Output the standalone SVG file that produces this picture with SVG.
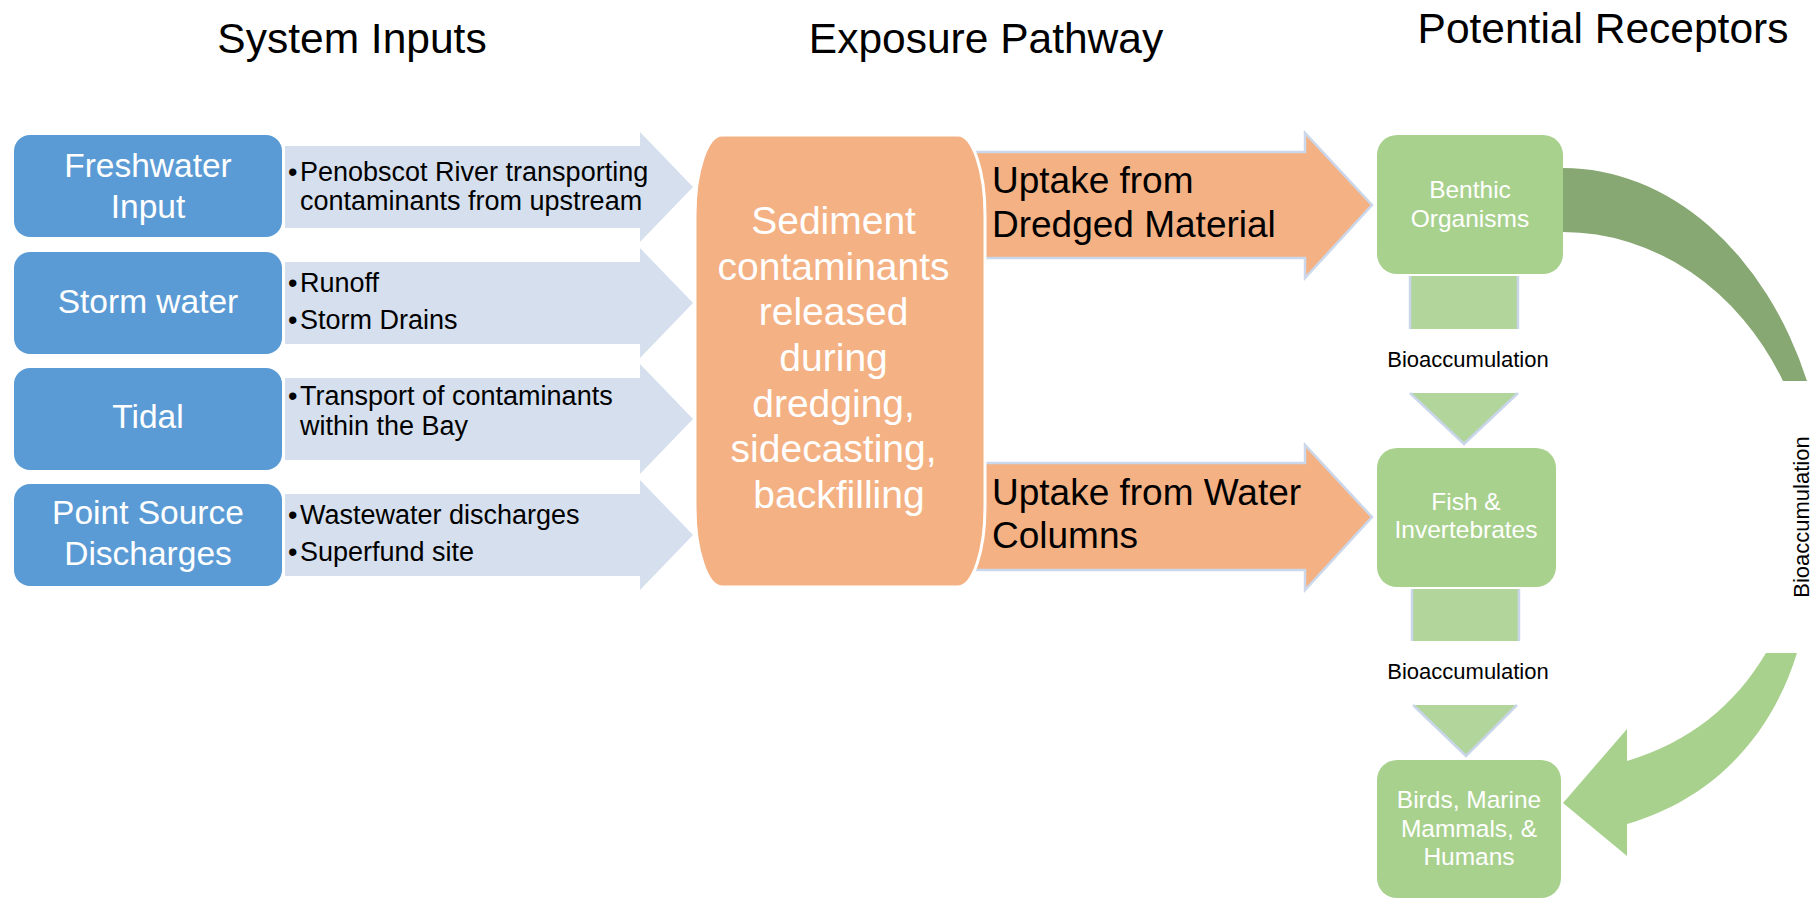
<svg xmlns="http://www.w3.org/2000/svg" width="1818" height="908" viewBox="0 0 1818 908">
<style>
text { font-family: "Liberation Sans", Arial, sans-serif; }
.title { font-size: 42.5px; fill: #000; text-anchor: middle; }
.src { fill: #5B9BD5; }
.srct { font-size: 33.5px; fill: #fff; text-anchor: middle; }
.inarrow { fill: #D5DFED; }
.bul { font-size: 27px; fill: #000; }
.orange { fill: #F4B183; stroke: #fff; stroke-width: 3; }
.oarrow { fill: #F4B183; stroke: #CBD7EA; stroke-width: 2.5; }
.ot { font-size: 39px; fill: #fff; text-anchor: middle; }
.at { font-size: 37px; fill: #000; }
.gbox { fill: #A9D18E; }
.gt { font-size: 24.5px; fill: #fff; text-anchor: middle; }
.dfill { fill: #B1D59A; }
.dedge { fill: none; stroke: #C9D6EA; stroke-width: 2.5; }
.bio { font-size: 22px; fill: #000; text-anchor: middle; }
</style>

<g id="titles">
  <text class="title" x="352" y="53">System Inputs</text>
  <text class="title" x="986" y="53">Exposure Pathway</text>
  <text class="title" x="1603" y="43">Potential Receptors</text>
</g>

<g id="connectors">
  <!-- input arrows -->
  <path class="inarrow" d="M285,146 H640 V132 L693,187 L640,242 V228 H285 Z"/>
  <path class="inarrow" d="M285,262 H640 V248 L693,303 L640,358 V344 H285 Z"/>
  <path class="inarrow" d="M285,378 H640 V364 L693,419 L640,474 V460 H285 Z"/>
  <path class="inarrow" d="M285,494 H640 V480 L693,535 L640,590 V576 H285 Z"/>
  <text class="bul"><tspan x="288" y="181">•</tspan><tspan x="300" y="181">Penobscot River transporting</tspan><tspan x="300" y="210">contaminants from upstream</tspan></text>
  <text class="bul"><tspan x="288" y="292">•</tspan><tspan x="300" y="292">Runoff</tspan><tspan x="288" y="329">•</tspan><tspan x="300" y="329">Storm Drains</tspan></text>
  <text class="bul"><tspan x="288" y="405">•</tspan><tspan x="300" y="405">Transport of contaminants</tspan><tspan x="300" y="435">within the Bay</tspan></text>
  <text class="bul"><tspan x="288" y="524">•</tspan><tspan x="300" y="524">Wastewater discharges</tspan><tspan x="288" y="561">•</tspan><tspan x="300" y="561">Superfund site</tspan></text>

  <!-- uptake arrows -->
  <path class="oarrow" d="M975,152 H1305 V133 L1372,205 L1305,278 V258 H975 Z"/>
  <path class="oarrow" d="M975,463 H1305 V445 L1372,517 L1305,590 V570 H975 Z"/>
  <text class="at"><tspan x="992" y="193">Uptake from</tspan><tspan x="992" y="237">Dredged Material</tspan></text>
  <text class="at"><tspan x="992" y="505">Uptake from Water</tspan><tspan x="992" y="548">Columns</tspan></text>

  <!-- bioaccumulation down arrows -->
  <rect class="dfill" x="1410" y="276" width="108" height="53"/>
  <path class="dedge" d="M1410,276 V329 M1518,276 V329"/>
  <path class="dfill" d="M1410,393 H1518 L1464,444 Z"/>
  <path class="dedge" d="M1410,393 L1464,444 L1518,393"/>
  <text class="bio" x="1468" y="367">Bioaccumulation</text>

  <rect class="dfill" x="1412" y="589" width="107" height="52"/>
  <path class="dedge" d="M1412,589 V641 M1519,589 V641"/>
  <path class="dfill" d="M1413,705 H1517 L1466,756 Z"/>
  <path class="dedge" d="M1413,705 L1466,756 L1517,705"/>
  <text class="bio" x="1468" y="679">Bioaccumulation</text>

  <!-- curved arrow -->
  <path fill="#87A872" d="M1550,168 H1563 A265.5,352 0 0 1 1807,381 H1783 A251,288 0 0 0 1563,232 H1550 Z"/>
  <path fill="#A9D18E" d="M1766,653 L1797,653 C1770,740 1710,800 1627,824 L1627,856 L1563,803 L1627,729 L1627,761 C1690,742 1735,705 1766,653 Z"/>
  <text class="bio" transform="translate(1809,517) rotate(-90)">Bioaccumulation</text>
</g>

<g id="freshwater">
  <rect class="src" x="14" y="135" width="268" height="102" rx="16"/>
  <text class="srct"><tspan x="148" y="177">Freshwater</tspan><tspan x="148" y="218">Input</tspan></text>
</g>
<g id="stormwater">
  <rect class="src" x="14" y="252" width="268" height="102" rx="16"/>
  <text class="srct" x="148" y="313">Storm water</text>
</g>
<g id="tidal">
  <rect class="src" x="14" y="368" width="268" height="102" rx="16"/>
  <text class="srct" x="148" y="428">Tidal</text>
</g>
<g id="pointsource">
  <rect class="src" x="14" y="484" width="268" height="102" rx="16"/>
  <text class="srct"><tspan x="148" y="524">Point Source</tspan><tspan x="148" y="565">Discharges</tspan></text>
</g>

<g id="sediment">
  <rect class="orange" x="695" y="135" width="290" height="452" rx="27" ry="80"/>
  <text class="ot">
    <tspan x="839" y="234">Sediment</tspan>
    <tspan x="839" y="280">contaminants</tspan>
    <tspan x="839" y="325">released</tspan>
    <tspan x="839" y="371">during</tspan>
    <tspan x="839" y="417">dredging,</tspan>
    <tspan x="839" y="462">sidecasting,</tspan>
    <tspan x="839" y="508">backfilling</tspan>
  </text>
</g>

<g id="benthic">
  <rect class="gbox" x="1377" y="135" width="186" height="139" rx="20"/>
  <text class="gt"><tspan x="1470" y="198">Benthic</tspan><tspan x="1470" y="227">Organisms</tspan></text>
</g>
<g id="fish">
  <rect class="gbox" x="1377" y="448" width="179" height="139" rx="20"/>
  <text class="gt"><tspan x="1466" y="510">Fish &amp;</tspan><tspan x="1466" y="538">Invertebrates</tspan></text>
</g>
<g id="birds">
  <rect class="gbox" x="1377" y="760" width="184" height="138" rx="20"/>
  <text class="gt"><tspan x="1469" y="808">Birds, Marine</tspan><tspan x="1469" y="837">Mammals, &amp;</tspan><tspan x="1469" y="865">Humans</tspan></text>
</g>
</svg>
